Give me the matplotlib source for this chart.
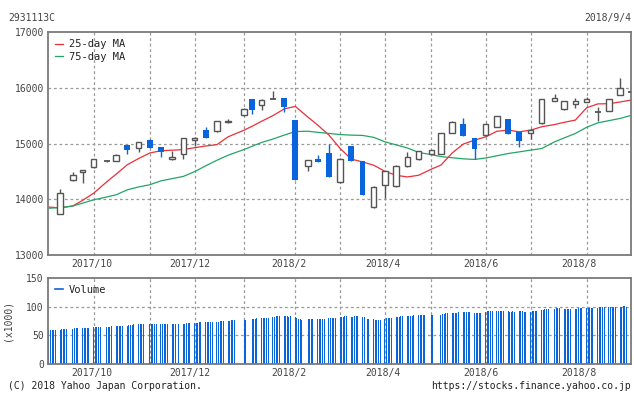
import matplotlib
matplotlib.use("Agg")
import matplotlib.pyplot as plt
import matplotlib.dates as mdates
from matplotlib.lines import Line2D
import numpy as np
import pandas as pd

plt.rcParams["font.family"] = "DejaVu Sans Mono"
plt.rcParams["font.size"] = 7

# weekly candles, dated by the first trading day of each week
week_dates = ["2017-09-11", "2017-09-19", "2017-09-25", "2017-10-02", "2017-10-10", "2017-10-16",
              "2017-10-23", "2017-10-30", "2017-11-06", "2017-11-13", "2017-11-20", "2017-11-27",
              "2017-12-04", "2017-12-11", "2017-12-18", "2017-12-25", "2018-01-04", "2018-01-09",
              "2018-01-15", "2018-01-22", "2018-01-29", "2018-02-05", "2018-02-13", "2018-02-19",
              "2018-02-26", "2018-03-05", "2018-03-12", "2018-03-19", "2018-03-26", "2018-04-02",
              "2018-04-09", "2018-04-16", "2018-04-23", "2018-05-01", "2018-05-07", "2018-05-14",
              "2018-05-21", "2018-05-28", "2018-06-04", "2018-06-11", "2018-06-18", "2018-06-25",
              "2018-07-02", "2018-07-09", "2018-07-17", "2018-07-23", "2018-07-30", "2018-08-06",
              "2018-08-13", "2018-08-20", "2018-08-27", "2018-09-03"]
opens = [13740, 14340, 14490, 14570, 14685, 14680, 14970, 14920, 15070, 14935, 14715, 14820,
         15070, 15240, 15220, 15380, 15505, 15790, 15685, 15795, 15810, 15415, 14600, 14720,
         14835, 14305, 14950, 14685, 13855, 14250, 14230, 14590, 14715, 14820, 14820, 15195,
         15355, 15105, 15145, 15295, 15435, 15200, 15180, 15360, 15770, 15610, 15710, 15750,
         15570, 15590, 15870, 15920]
highs = [14180, 14490, 14525, 14720, 14700, 14820, 14970, 15025, 15075, 14935, 14870, 15095,
         15110, 15300, 15410, 15435, 15630, 15795, 15805, 15950, 15810, 15415, 14705, 14790,
         14985, 14735, 14955, 14690, 14230, 14505, 14610, 14840, 14870, 14890, 15185, 15395,
         15455, 15105, 15360, 15490, 15435, 15205, 15255, 15805, 15895, 15770, 15815, 15835,
         15655, 15800, 16175, 15925]
lows = [13730, 14330, 14300, 14565, 14670, 14680, 14810, 14840, 14915, 14750, 14710, 14715,
        14950, 15090, 15215, 15375, 15500, 15535, 15605, 15790, 15565, 14345, 14510, 14665,
        14405, 14300, 14680, 14080, 13850, 14025, 14225, 14585, 14710, 14815, 14815, 15190,
        15135, 14715, 15140, 15290, 15170, 14940, 15080, 15355, 15765, 15605, 15640, 15745,
        15405, 15585, 15865, 15915]
closes = [14120, 14430, 14520, 14715, 14685, 14790, 14880, 15020, 14920, 14850, 14750, 15090,
          15105, 15090, 15405, 15410, 15625, 15595, 15775, 15795, 15655, 14345, 14700, 14665,
          14405, 14730, 14685, 14080, 14225, 14500, 14605, 14760, 14870, 14885, 15180, 15390,
          15135, 14895, 15355, 15490, 15170, 15045, 15250, 15805, 15820, 15770, 15770, 15790,
          15570, 15795, 15995, 15920]

# moving averages, read at each week
ma_dates = ["2017-09-04"] + week_dates
ma25 = [13860, 13845, 13880, 13980, 14110, 14310, 14450, 14620, 14730, 14830, 14870, 14880,
        14890, 14925, 14955, 14980, 15120, 15240, 15310, 15400, 15500, 15620, 15665, 15470,
        15330, 15150, 14910, 14720, 14670, 14610, 14500, 14430, 14400, 14430, 14540, 14613,
        14830, 14990, 15060, 15120, 15220, 15240, 15210, 15240, 15300, 15340, 15380, 15420,
        15640, 15710, 15714, 15745, 15780]
ma75 = [13839, 13850, 13880, 13930, 13990, 14040, 14080, 14170, 14220, 14260, 14330, 14370,
        14410, 14495, 14600, 14700, 14790, 14893, 14950, 15020, 15080, 15150, 15215, 15220,
        15200, 15180, 15160, 15150, 15145, 15110, 15030, 14975, 14920, 14840, 14800, 14765,
        14745, 14725, 14714, 14740, 14780, 14820, 14850, 14881, 14910, 15030, 15100, 15180,
        15290, 15370, 15410, 15450, 15505]

# daily volume (x1000), one line per week
holidays = ["2017-09-18", "2017-10-09", "2017-11-03", "2017-11-23", "2018-01-01", "2018-01-02",
            "2018-01-03", "2018-01-08", "2018-02-12", "2018-03-21", "2018-04-30", "2018-05-03",
            "2018-05-04", "2018-07-16"]
volume = [59, 59, 59, 60, 60,
          60, 61, 61, 61, 61,
          62, 63, 63, 63,
          63, 63, 63, 63, 63,
          64, 64, 65, 65, 65,
          64, 65, 65, 66,
          66, 66, 66, 67, 67,
          67, 68, 68, 68, 69,
          69, 70, 70, 70,
          70, 70, 70, 70, 70,
          70, 70, 70, 70, 70,
          70, 70, 70, 70,
          70, 70, 71, 72, 72,
          71, 72, 72, 73, 73,
          73, 73, 73, 73, 73,
          74, 74, 75, 75, 75,
          75, 75, 76, 77, 77,
          77, 77,
          78, 79, 79, 80,
          80, 81, 81, 81, 81,
          82, 82, 83, 83, 83,
          83, 83, 83, 82, 83,
          82, 80, 79, 78, 76,
          78, 79, 79, 79,
          78, 78, 79, 79, 79,
          80, 81, 81, 81, 81,
          82, 82, 82, 83, 83,
          82, 82, 83, 83, 83,
          82, 82, 79, 79,
          78, 77, 77, 76, 77,
          79, 80, 80, 80, 80,
          82, 82, 82, 83, 83,
          83, 84, 84, 84, 85,
          85, 85, 86, 86, 86,
          86, 86,
          86, 87, 87, 88, 88,
          88, 89, 89, 89, 90,
          90, 90, 91, 91, 90,
          89, 88, 88, 88, 89,
          91, 92, 92, 92, 92,
          92, 92, 92, 92, 92,
          92, 91, 91, 92, 91,
          92, 92, 92, 91, 91,
          91, 92, 92, 92, 92,
          94, 94, 95, 95, 95,
          96, 97, 97, 97,
          96, 96, 96, 96, 96,
          96, 96, 97, 97, 97,
          97, 97, 98, 98, 98,
          98, 99, 99, 99, 99,
          99, 99, 99, 99, 99,
          100, 100, 101, 101, 100,
          100, 101]

grid_dates = ["2017-10-02", "2017-11-06", "2017-12-04", "2018-01-04", "2018-02-05", "2018-03-05",
              "2018-04-02", "2018-05-01", "2018-06-04", "2018-07-02", "2018-08-06"]
label_dates = ["2017-10-01", "2017-12-01", "2018-02-01", "2018-04-01", "2018-06-01", "2018-08-01"]
label_text = ["2017/10", "2017/12", "2018/2", "2018/4", "2018/6", "2018/8"]

red = "#e8303a"
green = "#22a565"
blue = "#0a64dc"
dark = "#555555"
txt = "#444444"
gridc = "#999999"

wd = mdates.date2num(pd.to_datetime(week_dates))
o = np.array(opens, float)
h = np.array(highs, float)
l = np.array(lows, float)
c = np.array(closes, float)
up = c > o
down = c < o
flat = c == o

trade_days = pd.bdate_range("2017-09-04", "2018-09-04")
trade_days = trade_days[~trade_days.isin(pd.to_datetime(holidays))]
vd = mdates.date2num(trade_days[:len(volume)])

x0 = mdates.date2num(pd.Timestamp("2017-09-04")) - 0.6
x1 = x0 + 583 / 1.6

fig = plt.figure(figsize=(6.34, 3.94), dpi=100)
ax = fig.add_axes([48 / 634, 1 - 255 / 394, 583 / 634, 223 / 394])
axv = fig.add_axes([48 / 634, 1 - 364.3 / 394, 583 / 634, 86.6 / 394])

for a in (ax, axv):
    for s in a.spines.values():
        s.set_color("#7a7a7a")
        s.set_linewidth(1.3)
    a.set_xlim(x0, x1)
    for g in grid_dates:
        a.axvline(mdates.date2num(pd.Timestamp(g)), color=gridc, lw=0.9,
                  ls=(0, (2.2, 2.2)), zorder=1)
    a.set_xticks(mdates.date2num(pd.to_datetime(label_dates)))
    a.set_xticklabels(label_text)
    a.tick_params(length=0, colors=txt, labelsize=7, pad=3)

# price panel
ax.set_ylim(13000, 17000)
ax.set_yticks([13000, 14000, 15000, 16000, 17000])
for yv in [14000, 15000, 16000]:
    ax.axhline(yv, color=gridc, lw=0.9, ls=(0, (2.2, 2.2)), zorder=1)

mdn = mdates.date2num(pd.to_datetime(ma_dates))
ax.plot(mdn, ma25, color=red, lw=0.9, zorder=2, label="25-day MA")
ax.plot(mdn, ma75, color=green, lw=0.9, zorder=2, label="75-day MA")

ax.vlines(wd[~down], l[~down], h[~down], color=dark, lw=1, zorder=3)
ax.vlines(wd[down], l[down], h[down], color=blue, lw=1, zorder=3)
ax.bar(wd[up], c[up] - o[up], bottom=o[up], width=3.4, facecolor="white",
       edgecolor=dark, linewidth=1, zorder=4)
ax.bar(wd[down], o[down] - c[down], bottom=c[down], width=3.6, color=blue,
       linewidth=0, zorder=4)
ax.hlines(c[flat], wd[flat] - 1.9, wd[flat] + 1.9, color=dark, lw=1.3, zorder=4)

leg = ax.legend(loc="upper left", frameon=False, handlelength=0.7, handletextpad=0.6,
                borderaxespad=0.3, labelspacing=0.25, prop={"size": 7.5})
for t in leg.get_texts():
    t.set_color("#222222")

# volume panel
axv.set_ylim(0, 150)
axv.set_yticks([0, 50, 100, 150])
for yv in [50, 100]:
    axv.axhline(yv, color=gridc, lw=0.9, ls=(0, (2.2, 2.2)), zorder=1)
axv.bar(vd, volume, width=0.65, color=blue, linewidth=0, zorder=2)
lv = axv.legend(handles=[Line2D([], [], color=blue, lw=1.2)], labels=["Volume"],
                loc="upper left", frameon=False, handlelength=0.7, handletextpad=0.6,
                borderaxespad=0.3, prop={"size": 7.5})
for t in lv.get_texts():
    t.set_color("#222222")

fig.text(8 / 634, 1 - 18 / 394, "2931113C", color=txt, fontsize=7, va="center")
fig.text(631 / 634, 1 - 18 / 394, "2018/9/4", color=txt, fontsize=7, va="center", ha="right")
fig.text(8 / 634, 1 - 320 / 394, "(x1000)", color=txt, fontsize=7, va="center",
         ha="center", rotation=90)
fig.text(8 / 634, 1 - 386 / 394, "(C) 2018 Yahoo Japan Corporation.", color="#222222",
         fontsize=7, va="center")
fig.text(631 / 634, 1 - 386 / 394, "https://stocks.finance.yahoo.co.jp", color="#222222",
         fontsize=7, va="center", ha="right")

fig.savefig("out.png", dpi=100)
